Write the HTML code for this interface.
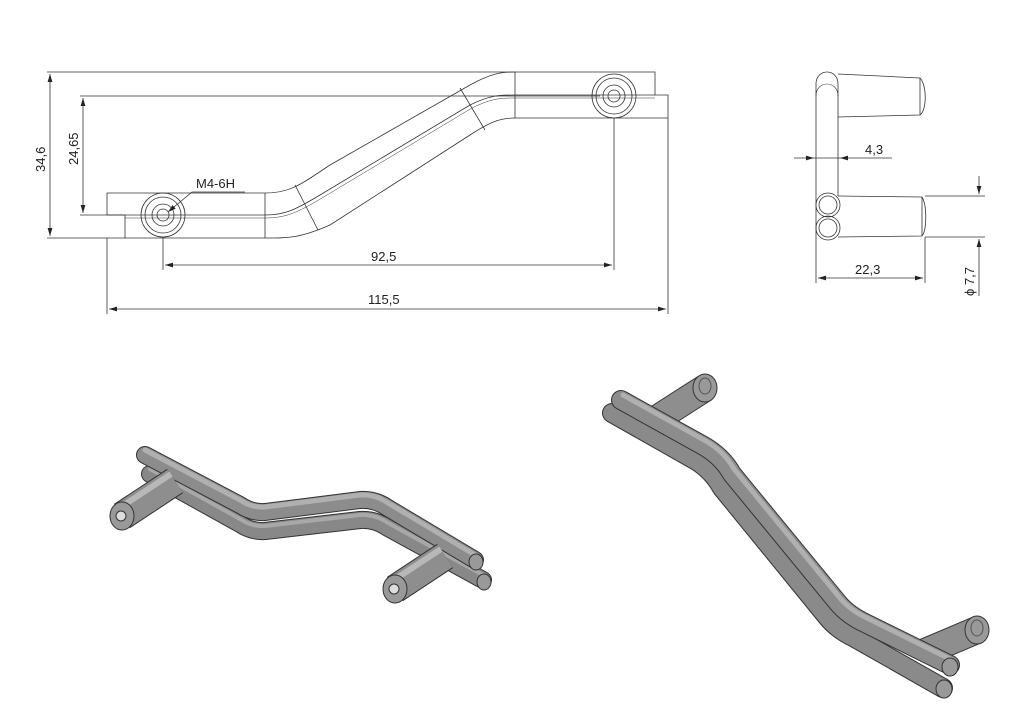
<!DOCTYPE html>
<html><head><style>
html,body{margin:0;padding:0;background:#fff;}
svg{display:block;}
text{font-family:"Liberation Sans",sans-serif;font-size:13px;fill:#222;}
</style></head><body>
<svg width="1024" height="724" viewBox="0 0 1024 724" xmlns="http://www.w3.org/2000/svg">
<defs>
<marker id="a" viewBox="0 0 10 6" refX="10" refY="3" markerWidth="10" markerHeight="6" orient="auto-start-reverse"><path d="M0,0L10,3L0,6z" fill="#222"/></marker>
</defs>
<g fill="none" stroke="#333" stroke-width="0.8">
<path d="M107,193 H265 C290,193 300,185 330,165 L470,85 C490,74 500,72 515,72 H655 V95 H668 V118 H515 C500,118 490,122 470,135 L330,225 C300,238 290,238 265,238 H125 V215 H107 Z"/>
<path d="M107,215 H265 C285,215 295,210 320,195 L470,105 C490,95 500,95 515,95 H655"/>
<path d="M125,218 H265 C285,218 297,213 322,198 L472,108 C492,98 502,98 515,98 H655" stroke-width="0.5"/>
<line x1="265" y1="193" x2="265" y2="238"/><line x1="515" y1="72" x2="515" y2="118"/>
<line x1="295" y1="185" x2="318" y2="230"/><line x1="460" y1="88" x2="485" y2="130"/>
<circle cx="163" cy="215" r="22"/><circle cx="163" cy="215" r="18"/><circle cx="163" cy="215" r="11"/><circle cx="163" cy="215" r="6"/>
<circle cx="614" cy="96" r="22"/><circle cx="614" cy="96" r="18"/><circle cx="614" cy="96" r="11"/><circle cx="614" cy="96" r="6"/>
<line x1="47" y1="72" x2="515" y2="72"/>
<line x1="80" y1="96" x2="600" y2="96"/>
<line x1="80" y1="215" x2="107" y2="215"/>
<line x1="47" y1="238" x2="125" y2="238"/>
<line x1="50" y1="74" x2="50" y2="236" marker-start="url(#a)" marker-end="url(#a)"/>
<line x1="83" y1="98" x2="83" y2="213" marker-start="url(#a)" marker-end="url(#a)"/>
<line x1="163" y1="237" x2="163" y2="270"/><line x1="614" y1="118" x2="614" y2="270"/>
<line x1="165" y1="265" x2="612" y2="265" marker-start="url(#a)" marker-end="url(#a)"/>
<line x1="107" y1="238" x2="107" y2="314"/><line x1="668" y1="118" x2="668" y2="314"/>
<line x1="109" y1="309" x2="666" y2="309" marker-start="url(#a)" marker-end="url(#a)"/>
<path d="M245,192 H192 L168,212" marker-end="url(#a)"/>
<path d="M816,84 C816,68 838,68 838,84 V196"/>
<path d="M816,238 V84"/>
<path d="M816,96 C816,80 838,80 838,96" stroke-width="0.6"/>
<path d="M838,74 L920,78 C927,85 927,110 920,115 L838,117"/>
<line x1="920" y1="78" x2="920" y2="115"/>
<path d="M838,196 L922,197 C927,205 927,230 922,236 L838,237"/>
<line x1="922" y1="197" x2="922" y2="236"/>
<circle cx="828" cy="205" r="12"/><circle cx="828" cy="205" r="9"/>
<circle cx="828" cy="228" r="12"/><circle cx="828" cy="228" r="9"/>
<line x1="794" y1="158" x2="814" y2="158" marker-end="url(#a)"/>
<line x1="892" y1="158" x2="840" y2="158" marker-end="url(#a)"/>
<line x1="814" y1="158" x2="840" y2="158"/>
<line x1="816" y1="238" x2="816" y2="283"/><line x1="925" y1="237" x2="925" y2="283"/>
<line x1="818" y1="278" x2="923" y2="278" marker-start="url(#a)" marker-end="url(#a)"/>
<line x1="925" y1="196" x2="985" y2="196"/><line x1="925" y1="237" x2="985" y2="237"/>
<line x1="979" y1="176" x2="979" y2="194" marker-end="url(#a)"/>
<line x1="979" y1="296" x2="979" y2="239" marker-end="url(#a)"/>
</g>
<text x="371" y="261">92,5</text>
<text x="368" y="304">115,5</text>
<text x="196" y="188">M4-6H</text>
<text x="865" y="154">4,3</text>
<text x="855" y="274">22,3</text>
<text transform="translate(45,172) rotate(-90)">34,6</text>
<text transform="translate(78,165) rotate(-90)">24,65</text>
<text transform="translate(974,296) rotate(-90)">ϕ 7,7</text>

<!-- iso left -->
<g fill="none" stroke-linecap="round" stroke-linejoin="round">
<path d="M150,474 L240,524 Q252,532 265,531 L360,520 Q375,519 388,528 L483,580" stroke="#333" stroke-width="18"/>
<path d="M150,474 L240,524 Q252,532 265,531 L360,520 Q375,519 388,528 L483,580" stroke="#888" stroke-width="16"/>
<path d="M150,469 L240,519 Q252,527 265,526 L360,515 Q375,514 388,523 L483,575" stroke="#a8a8a8" stroke-width="4"/>
<path d="M145,455 L240,505 Q252,513 265,512 L360,500 Q375,499 388,508 L475,560" stroke="#333" stroke-width="18"/>
<path d="M145,455 L240,505 Q252,513 265,512 L360,500 Q375,499 388,508 L475,560" stroke="#8c8c8c" stroke-width="16"/>
<path d="M145,450 L240,500 Q252,508 265,507 L360,495 Q375,494 388,503 L475,555" stroke="#b0b0b0" stroke-width="5"/>
<path d="M122,516 L175,481" stroke="#333" stroke-width="29" stroke-linecap="butt"/>
<path d="M122,516 L175,481" stroke="#8e8e8e" stroke-width="27" stroke-linecap="butt"/>
<path d="M118,509 L171,474" stroke="#b8b8b8" stroke-width="6" stroke-linecap="butt"/>
<path d="M395,589 L445,556" stroke="#333" stroke-width="29" stroke-linecap="butt"/>
<path d="M395,589 L445,556" stroke="#8e8e8e" stroke-width="27" stroke-linecap="butt"/>
<path d="M391,582 L441,549" stroke="#b8b8b8" stroke-width="6" stroke-linecap="butt"/>
</g>
<ellipse cx="122" cy="516" rx="12" ry="14" fill="#999" stroke="#333"/><circle cx="121" cy="516" r="5" fill="#ddd" stroke="#333"/>
<ellipse cx="395" cy="589" rx="12" ry="14" fill="#999" stroke="#333"/><circle cx="394" cy="589" r="5" fill="#ddd" stroke="#333"/>
<ellipse cx="484" cy="582" rx="7" ry="8" fill="#999" stroke="#333"/>
<ellipse cx="476" cy="562" rx="7" ry="8" fill="#999" stroke="#333"/>

<!-- iso right -->
<g fill="none" stroke-linecap="round" stroke-linejoin="round">
<path d="M655,420 L705,388" stroke="#333" stroke-width="28" stroke-linecap="butt"/>
<path d="M655,420 L705,388" stroke="#8e8e8e" stroke-width="26" stroke-linecap="butt"/>
<path d="M925,652 L977,630" stroke="#333" stroke-width="28" stroke-linecap="butt"/>
<path d="M925,652 L977,630" stroke="#8e8e8e" stroke-width="26" stroke-linecap="butt"/>
</g>
<ellipse cx="705" cy="388" rx="12" ry="14" fill="#999" stroke="#333"/><ellipse cx="705" cy="386" rx="6" ry="8" fill="none" stroke="#555"/>
<ellipse cx="977" cy="630" rx="12" ry="14" fill="#999" stroke="#333"/><ellipse cx="977" cy="628" rx="6" ry="8" fill="none" stroke="#555"/>
<g fill="none" stroke-linecap="round" stroke-linejoin="round">
<path d="M612,413 L695,460 Q712,470 722,488 L828,618 Q838,630 855,638 L943,688" stroke="#333" stroke-width="20"/>
<path d="M612,413 L695,460 Q712,470 722,488 L828,618 Q838,630 855,638 L943,688" stroke="#8a8a8a" stroke-width="18"/>
<path d="M621,400 L702,445 Q722,456 732,474 L838,603 Q848,615 865,623 L950,665" stroke="#333" stroke-width="20"/>
<path d="M621,400 L702,445 Q722,456 732,474 L838,603 Q848,615 865,623 L950,665" stroke="#8c8c8c" stroke-width="18"/>
<path d="M623,395 L704,440 Q724,451 734,469 L840,598 Q850,610 867,618 L952,660" stroke="#b0b0b0" stroke-width="5"/>
</g>
<ellipse cx="950" cy="667" rx="8" ry="9" fill="#999" stroke="#333"/>
<ellipse cx="944" cy="689" rx="8" ry="9" fill="#999" stroke="#333"/>
</svg>
</body></html>
